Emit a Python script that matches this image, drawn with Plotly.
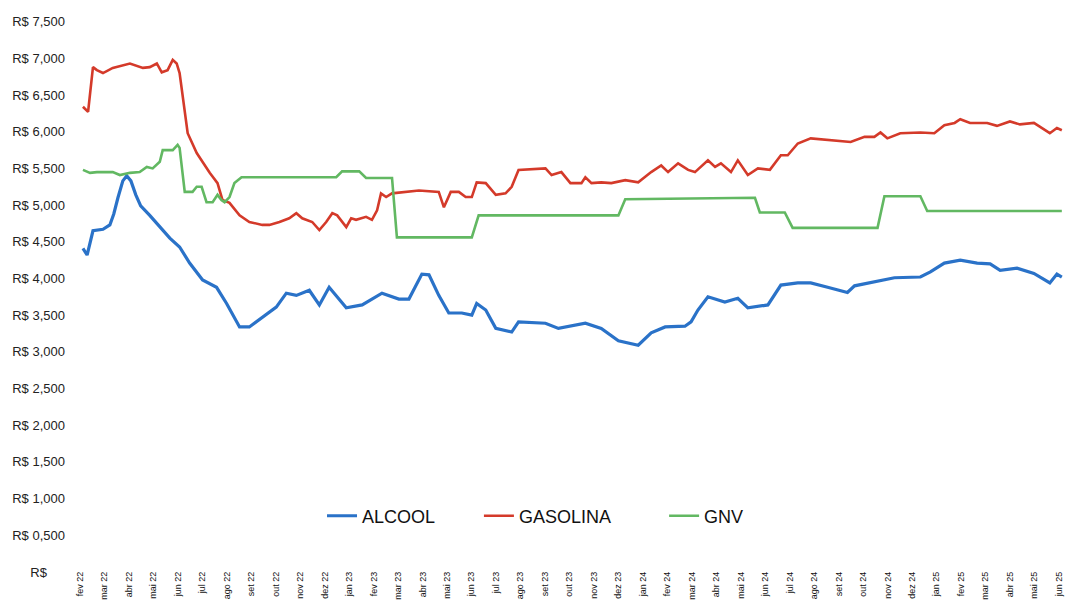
import plotly.graph_objects as go

# x positions are in months since 1 Feb 2022 (0 = "fev 22")
month_labels = ["fev 22", "mar 22", "abr 22", "mai 22", "jun 22", "jul 22", "ago 22", "set 22",
                "out 22", "nov 22", "dez 22", "jan 23", "fev 23", "mar 23", "abr 23", "mai 23",
                "jun 23", "jul 23", "ago 23", "set 23", "out 23", "nov 23", "dez 23", "jan 24",
                "fev 24", "mar 24", "abr 24", "mai 24", "jun 24", "jul 24", "ago 24", "set 24",
                "out 24", "nov 24", "dez 24", "jan 25", "fev 25", "mar 25", "abr 25", "mai 25",
                "jun 25"]
month_ticks = list(range(len(month_labels)))

y_ticks = [0, 0.5, 1, 1.5, 2, 2.5, 3, 3.5, 4, 4.5, 5, 5.5, 6, 6.5, 7, 7.5]
y_labels = ["R$\u00a0\u00a0\u00a0\u00a0\u00a0", "R$ 0,500", "R$ 1,000", "R$ 1,500", "R$ 2,000",
            "R$ 2,500", "R$ 3,000", "R$ 3,500", "R$ 4,000", "R$ 4,500", "R$ 5,000",
            "R$ 5,500", "R$ 6,000", "R$ 6,500", "R$ 7,000", "R$ 7,500"]

alcool_x = [0.12, 0.29, 0.53, 0.94, 1.22, 1.38, 1.55, 1.75, 1.91, 2.08, 2.28, 2.48, 2.85, 3.26,
            3.67, 4.07, 4.48, 5.01, 5.58, 5.99, 6.31, 6.52, 6.92, 7.45, 8.02, 8.43, 8.84, 9.37,
            9.78, 10.18, 10.88, 11.53, 12.34, 13.03, 13.44, 13.97, 14.26, 14.66, 15.07, 15.60,
            16.01, 16.21, 16.58, 16.99, 17.64, 17.92, 19.02, 19.55, 20.65, 21.30, 22.00, 22.81,
            23.34, 23.91, 24.72, 24.97, 25.25, 25.66, 26.35, 26.88, 27.29, 28.11, 28.64, 29.33,
            29.86, 30.55, 31.36, 31.65, 32.46, 33.28, 34.34, 34.75, 35.32, 35.97, 36.66, 37.19,
            37.60, 38.29, 38.98, 39.63, 39.92, 40.12]
alcool_y = [4.41, 4.32, 4.65, 4.67, 4.73, 4.88, 5.10, 5.33, 5.40, 5.33, 5.14, 4.99, 4.86, 4.70,
            4.55, 4.43, 4.21, 3.98, 3.88, 3.66, 3.46, 3.34, 3.34, 3.47, 3.61, 3.80, 3.77, 3.84,
            3.64, 3.88, 3.60, 3.64, 3.80, 3.72, 3.72, 4.06, 4.05, 3.77, 3.53, 3.53,
            3.50, 3.66, 3.57, 3.32, 3.27, 3.41, 3.39, 3.32, 3.39, 3.32, 3.15, 3.09,
            3.26, 3.34, 3.35, 3.41, 3.57, 3.75, 3.68, 3.73, 3.60, 3.64, 3.91, 3.94,
            3.94, 3.88, 3.81, 3.90, 3.95, 4.01, 4.02, 4.09, 4.21, 4.25, 4.21, 4.20,
            4.11, 4.14, 4.07, 3.94, 4.06, 4.02]

gasolina_x = [0.12, 0.33, 0.53, 0.69, 0.94, 1.34, 2.04, 2.57, 2.85, 3.14, 3.34, 3.58, 3.79, 3.95,
              4.07, 4.28, 4.40, 4.77, 5.30, 5.62, 5.82, 6.11, 6.52, 6.92, 7.45, 7.74, 8.15, 8.55,
              8.84, 9.08, 9.49, 9.78, 10.06, 10.31, 10.51, 10.88, 11.08, 11.28, 11.69, 11.93,
              12.14, 12.30, 12.51, 12.75, 13.32, 13.85, 14.66, 14.87, 15.15, 15.48, 15.76, 16.01,
              16.21, 16.58, 16.99, 17.39, 17.64, 17.92, 19.02, 19.27, 19.67, 20.04, 20.49, 20.65,
              20.90, 21.30, 21.71, 22.28, 22.81, 23.34, 23.75, 24.03, 24.44, 24.85, 25.13, 25.66,
              25.95, 26.19, 26.60, 26.88, 27.29, 27.70, 28.19, 28.64, 28.92, 29.33, 29.86, 30.67,
              31.49, 32.06, 32.46, 32.71, 32.99, 33.52, 34.34, 34.91, 35.32, 35.74, 35.97, 36.37,
              37.07, 37.47, 38.00, 38.41, 38.98, 39.63, 39.92, 40.12]
gasolina_y = [6.34, 6.27, 6.88, 6.84, 6.80, 6.87, 6.93, 6.87, 6.88, 6.93, 6.81, 6.84, 6.98, 6.93,
              6.80, 6.25, 5.98, 5.71, 5.44, 5.30, 5.07, 5.03, 4.86, 4.77, 4.73, 4.73, 4.77, 4.82,
              4.89, 4.82, 4.77, 4.66, 4.77, 4.89, 4.86, 4.70, 4.82, 4.80, 4.84, 4.80,
              4.93, 5.16, 5.11, 5.16, 5.18, 5.20, 5.18, 4.97, 5.18, 5.18, 5.11, 5.11,
              5.31, 5.30, 5.14, 5.16, 5.25, 5.48, 5.50, 5.41, 5.45, 5.30, 5.30, 5.38,
              5.30, 5.31, 5.30, 5.34, 5.31, 5.45, 5.54, 5.45, 5.57, 5.48, 5.45, 5.61,
              5.52, 5.57, 5.45, 5.61, 5.41, 5.50, 5.48, 5.68, 5.68, 5.84, 5.91, 5.89,
              5.86, 5.93, 5.93, 5.99, 5.91, 5.98, 5.99, 5.98, 6.09, 6.12, 6.17, 6.12,
              6.12, 6.08, 6.14, 6.10, 6.12, 5.98, 6.05, 6.02]

gnv_x = [0.12, 0.41, 0.69, 1.34, 1.63, 2.04, 2.44, 2.73, 2.97, 3.26, 3.38, 3.67, 3.79, 3.99, 4.07,
         4.28, 4.60, 4.77, 4.97, 5.17, 5.42, 5.62, 5.78, 5.91, 6.11, 6.31, 6.60, 10.47, 10.71,
         11.41, 11.69, 12.75, 12.95, 16.01, 16.29, 22.00, 22.28, 27.58, 27.78, 28.80, 29.12,
         32.59, 32.87, 34.34, 34.62, 40.12]
gnv_y = [5.48, 5.44, 5.45, 5.45, 5.41, 5.44, 5.45, 5.52, 5.50, 5.59, 5.75, 5.75, 5.75, 5.82, 5.78,
         5.18, 5.18, 5.25, 5.25, 5.04, 5.04, 5.14, 5.07, 5.04, 5.11, 5.30, 5.38, 5.38, 5.46,
         5.46, 5.37, 5.37, 4.56, 4.56, 4.86, 4.86, 5.08, 5.10, 4.90, 4.90, 4.69,
         4.69, 5.12, 5.12, 4.92, 4.92]

series = [
    ("ALCOOL", alcool_x, alcool_y, "#2a72c8", 3.2, "legend"),
    ("GASOLINA", gasolina_x, gasolina_y, "#d43a2a", 2.6, "legend2"),
    ("GNV", gnv_x, gnv_y, "#62b862", 2.6, "legend3"),
]

fig = go.Figure()
for name, xs, ys, color, width, leg in series:
    fig.add_trace(go.Scatter(x=xs, y=ys, mode="lines", name=name,
                             line=dict(color=color, width=width),
                             legend=leg, showlegend=True))

legend_font = dict(family="Liberation Sans, Arial, sans-serif", size=18, color="#111111")
def leg(xpos):
    return dict(x=xpos, y=0.101, xanchor="left", yanchor="middle", xref="paper", yref="paper",
                bgcolor="rgba(0,0,0,0)", font=legend_font, itemwidth=30,
                orientation="h", tracegroupgap=0, visible=True)

fig.update_layout(
    width=1065, height=603,
    template="none",
    showlegend=True,
    paper_bgcolor="white", plot_bgcolor="white",
    margin=dict(l=80, r=0, t=18, b=31),
    legend=leg(0.2457),
    legend2=leg(0.405),
    legend3=leg(0.593),
    xaxis=dict(range=[0, 40.25], tickmode="array", tickvals=month_ticks, ticktext=month_labels,
               tickangle=-90, showgrid=False, zeroline=False, showline=False, ticks="",
               automargin=False, ticklabelstandoff=-3, ticklabeloverflow="allow",
               tickfont=dict(family="Liberation Sans, Arial, sans-serif", size=9, color="#111111")),
    yaxis=dict(range=[0, 7.55], tickmode="array", tickvals=y_ticks, ticktext=y_labels,
               showgrid=False, zeroline=False, showline=False, ticks="",
               ticklabelstandoff=14, automargin=False,
               tickfont=dict(family="Liberation Sans, Arial, sans-serif", size=13, color="#222222")),
)

fig.write_html("out.html", config={"displayModeBar": False},
               post_script="document.body.style.margin='0';document.body.style.overflow='hidden';")
